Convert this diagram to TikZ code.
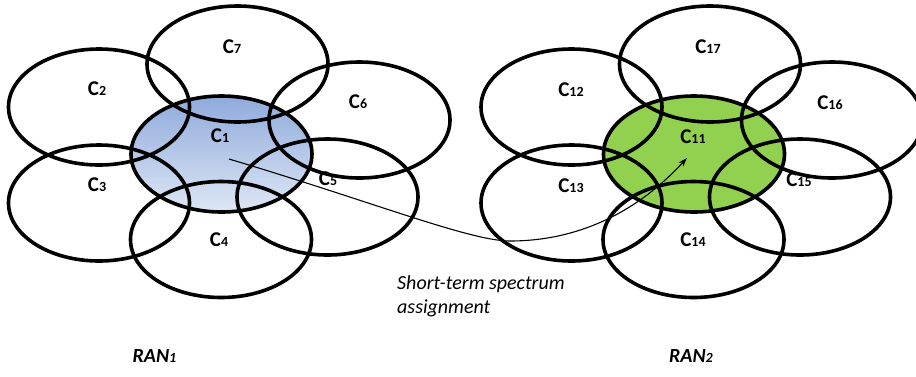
\documentclass[tikz,border=0pt]{standalone}
\usepackage{fontspec}
\setmainfont{Carlito}
\usetikzlibrary{calc, positioning}
\usetikzlibrary{arrows.meta}
\usetikzlibrary{shapes.geometric}
\definecolor{ranblue}{RGB}{143,170,220}
\definecolor{ranpale}{RGB}{222,231,245}
\definecolor{rangreen}{RGB}{146,208,80}
\newcommand{\idx}[1]{{\fontsize{14}{14}\selectfont #1}}

\begin{document}
\begin{tikzpicture}[x=1pt, y=-1pt,
  cell/.style={draw, ellipse, line width=3.6pt, minimum width=181pt, minimum height=116pt, inner sep=0pt},
  cellname/.style={font=\fontsize{21}{21}\selectfont\bfseries, inner sep=0pt},
  ranname/.style={font=\fontsize{20}{20}\selectfont\bfseries\itshape, inner sep=0pt, anchor=base},
  note/.style={font=\fontsize{20}{24}\selectfont\itshape, align=left, inner sep=0pt}]
\useasboundingbox (0,0) rectangle (916,376);
\def\shift{472.5}
\foreach \n/\x/\y in {1/221.5/154, 7/237.5/64, 2/99/107, 6/359.5/120, 3/99/203, 5/327.5/197, 4/221/239.5}
{
  \coordinate (p\n) at (\x,\y);
  \pgfmathtruncatemacro{\m}{\n+10}
  \coordinate (p\m) at (\x+\shift,\y);
}
\coordinate (src) at (229,159);
\coordinate (low) at (510,241);
\coordinate (dst) at (687,158);

\shade[top color=ranblue, bottom color=ranpale] (p1) ellipse [x radius=90.5pt, y radius=58pt];
\fill[rangreen] (p11) ellipse [x radius=90.5pt, y radius=58pt];

\foreach \n/\x/\y in {7/232/47, 2/97/89, 6/358/102, 1/220/136, 3/97/185, 5/328/179, 4/219/240,
  17/708/47, 12/571/90, 16/830/103, 11/693/137, 13/571/186, 15/799/180, 14/693/240}
  \node[cellname] (l\n) at (\x,\y) {C\idx{\n}};

\foreach \n in {1,2,...,7,11,12,...,17}
  \node[cell] (c\n) at (p\n) {};

\draw[line width=1.1pt, -{Stealth[length=9pt, width=6pt]}] (src)
  .. controls (373,202) and (470,241) .. (low)
  .. controls (605,241) and (662,185) .. (dst);

\node[note, anchor=base west] (assign) at (397,289) {Short-term spectrum};
\node[note, anchor=base west] (assign2) at (397,313) {assignment};
\node[ranname] (ran1) at (154.5,362) {RAN\idx{1}};
\node[ranname] (ran2) at (691,362) {RAN\idx{2}};
\end{tikzpicture}
\end{document}
